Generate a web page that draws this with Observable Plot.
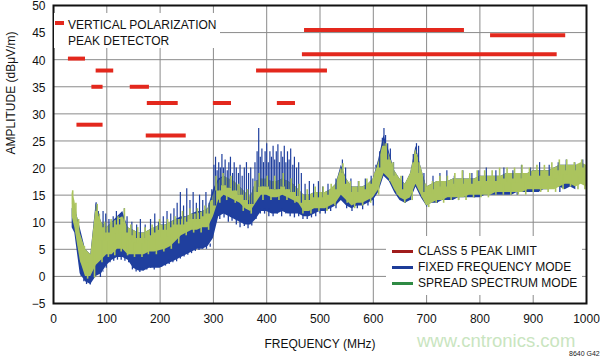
<!DOCTYPE html>
<html>
<head>
<meta charset="utf-8">
<script src="https://cdn.jsdelivr.net/npm/d3@7"></script>
<script src="https://cdn.jsdelivr.net/npm/@observablehq/plot@0.6"></script>
<style>
  html, body { margin: 0; padding: 0; background: #fff; }
  #wrap { position: relative; width: 600px; height: 359px; font-family: "Liberation Sans", Arial, sans-serif; }
  #wrap svg { position: absolute; left: 0; top: 0; }
  .box { position: absolute; background: #fff; }
  .row { position: absolute; font-size: 12px; line-height: 16px; color: #111; white-space: nowrap; }
  .sw { position: absolute; height: 3px; }
  #wm { position: absolute; left: 417px; top: 330px; font-size: 18.5px; color: #c9e5c0; }
  #code { position: absolute; left: 569px; top: 350px; font-size: 7px; color: #222; }
</style>
</head>
<body>
<div id="wrap"></div>
<script>
// ---- data ----
const freqMHz = [35,40,50,60,70,80,90,100,110,120,130,140,150,160,170,180,190,200,210,220,230,240,250,260,270,280,290,300,
  310,320,330,340,350,360,370,380,390,400,410,420,430,440,450,460,470,480,490,500,510,520,530,540,550,560,570,580,590,600,
  610,620,630,640,650,660,670,680,690,700,710,720,730,740,750,760,770,780,790,800,810,820,830,840,850,860,870,880,890,900,
  910,920,930,940,950,960,970,980,990,1000];
const spreadLo = [11,9,3,0,0,2,3,4,4,5,5,4,4,4,4,4.5,4.5,4.8,5,5.5,6.5,7.5,8,8.5,8.5,9,9,11,
  14,15,14.5,14,13.5,12.5,12,13.5,15,15,14.5,14.5,15,14.5,14,13.5,12,12,12.5,12.5,12.5,13,13.5,15,14,13,13.5,13.5,14,14.5,
  16,19,18,16,14.5,14,14.5,17,15,13,13.5,14,14,14.5,14.5,14.5,14.5,15,15,15,15,15,15.5,15.5,15.5,15.5,15.5,15.5,16,16,
  16,16,16,16,16.5,17,17,16.5,17,16.5];
const spreadHi = [15.5,14,8,5,4,13,10,9,10,10.5,11,9,8.5,8,8,8.5,9,9.5,9.5,10,10.5,10.5,11,11.5,11.5,12,12.5,15,
  17.5,18.5,18,17.5,16.5,15.5,14.5,17.5,18,18,17.5,17.5,18,17.5,17,16,15,15,15.5,15.5,15.5,16,17,20,18,16.5,16.5,16.5,17,18,
  21,25,22.5,19.5,18,17,19,23.5,20,16.5,17,17.5,17.5,17.5,18,18,18,18,18,18.5,18.5,18.5,18.5,18.5,19,19,19,19,19,19.5,
  19.5,19.5,19.5,20,20.5,20.5,20.5,20.5,21,20.5];
const fixedLo = [9,8,0.5,-1,-1.5,0,0.5,2,3,3.5,3.5,3,1.5,1,1,1.5,1.5,1.5,2,2.5,3,3.5,4,4.5,5,5,5.5,7,
  11,11.5,11,10.5,10,9.5,9.5,10.5,12,12,11.5,11.5,12,11.5,11.5,11.5,11,11,11.5,12,12,12.5,13,14,13,12.5,13,13,13.5,14,
  15.5,18.5,17.5,15.5,14,13.5,14,16.5,14.5,13,13.5,13.5,14,14,14,14.5,14.5,14.5,14.5,14.5,15,15,15,15,15,15,15.5,15.5,
  15.5,15.5,15.5,16,16,16.5,16.5,16,16.5,16];
const fixedHi = [12.5,13,9,5,4,13.5,10,9,10,11,12,9,8.5,8,8,8.5,9,9.5,9.5,10,10.5,11,11,11.5,12,12,12.5,16,
  18,18.5,17.5,17,16.5,15.5,14.5,17.5,18,17.5,17.5,17.5,18,17.5,17,16,15,15,15.5,15.5,15.5,16,17,20.5,18,16.5,16.5,16.5,17,18,
  21.5,26,23,19.5,18,17,19,24,20,16.5,17,17.5,17.5,17.5,18,18,18,18,18,18.5,18.5,18.5,18.5,18.5,19,19,19,19,19,19.5,
  19.5,19.5,19.5,20,20.5,20.5,20.5,20.5,21,20.5];
// upward spikes of the fixed-frequency trace
const fixedSpikeMHz = [80,84,93,98,104,112,118,124,133,138,147,156,163,172,182,190,197,206,213,220,226,232,238,244,250,256,262,268,274,280,286,292,297,
  301,304,307,310,313,316,319,322,326,329,332,336,339,343,347,350,354,358,362,366,370,374,378,382,385,388,391,394,397,400,403,406,409,412,415,418,421,424,427,430,433,436,439,442,445,449,452,456,460,465,
  472,480,488,497,505,515,530,542,548,558,572,585,596,605,612,617,620,623,627,632,638,655,675,681,685,695,712,725,738,752,768,785,798,812,830,845,862,878,895,912,930,947,962,978,993];
const fixedSpikeTop = [13.6,11,12,11.5,10.5,11,12,10.5,12.5,11,10,9.5,10.5,9.5,10.5,11.5,10,11,12,11.5,12.5,13.5,15.5,13,16.2,14,15.5,13.5,15,14,15.5,13.5,16,
  20.5,22,19.5,21,20,22.5,20,21.5,19.5,21,22,19,21,20,19,20.5,18.5,20,21,19,20,18,21,23,27.3,22,23.5,21,23,24.5,21,23,22,24,21.5,23,24.3,21,23,22,24,21,23,21.5,23.5,20.5,22,20,21,19,
  17,17.5,17,17.5,16.5,17,18,21.5,20,18,17.5,18,18.5,20.5,23,25.5,27.3,26,24.5,23.5,21,18.5,21,24.5,24,19,18.5,19,19.5,18.5,19.5,19,19.5,20,19.5,20,19.5,20.5,20,21,20.5,21,21.5,21,21.5];
// downward dips of the fixed-frequency trace
const fixedDipMHz = [52,57,62,66,69,73,78,84,88,93,99,106,113,120,127,134,141,148,155,162,168,175,182,189,196,203,210,217,224,231,238,245,252,259,266,273,280,287,294,
  305,312,320,328,335,343,350,358,365,372,380,388,396,404,412,420,428,436,444,452,460,468,476,484,492,500,510,520,530,550,560,570,580,590,600,645,660,670,700,720,740,760,790,830,870,910,950,990];
const fixedDipLow = [0,-1,-1.5,-0.8,-1.6,-1,0,0.5,-0.2,0.8,1.5,2.5,2.8,3,3,2.8,2.5,1.2,0.8,0.7,1,1.2,1.5,1.2,1.7,1.7,1.9,2.2,2.5,2.7,3.2,3.6,3.9,4.2,4.6,4.8,5,5,5.4,
  10,10.5,10.8,10,10.2,9.5,9,9.2,8.8,9.3,10.5,11.5,11.5,11,11,11.5,11,11.5,11,10.8,11,10.5,10.5,10.8,11,11.5,11.5,12,12.5,12.5,12,12.5,12.3,13,13,14.5,13.5,14,12.8,13.5,14,14,14.5,15,15,15.5,15.5,15.5];
// spikes (up and down) of the spread-spectrum trace
const spreadSpikeMHz = [36,42,47,52,58,64,72,77,82,86,91,96,103,108,115,121,127,133,139,145,152,158,166,172,178,185,193,199,207,214,221,228,235,242,249,256,263,270,277,284,291,297,
  305,312,318,325,333,341,348,356,364,371,378,386,393,401,408,415,423,431,438,446,453,461,468,476,483,491,498,506,513,521,528,535,543,551,557,565,573,580,588,595,
  603,610,617,624,631,637,645,652,659,666,673,679,686,692,698,704,711,718,725,732,739,746,753,760,767,774,781,788,795,802,809,816,823,830,837,844,851,858,865,872,879,886,893,900,
  907,914,921,928,935,942,949,956,963,970,977,984,991,997];
const spreadSpikeVal = [15.8,13.5,10.5,2.5,5.5,-0.5,4.5,-0.3,13.3,11.5,2.5,10,3.5,10.5,3.8,11,4.5,12.5,3.8,9.5,3.5,9,3.5,9,4,9.5,4,10.5,4.5,10.5,5,11,6,12,7.5,12.5,8,12.5,8,13,8.5,13.5,
  18.5,13.5,19,14,18.5,13.5,17,12,16,11.5,17.5,19,14,18.5,14,18.5,14,19,14,18,13.5,17,11.5,16,11.5,16.5,12,16.5,12,17,13,18,20.8,13.5,17.5,12.5,17.5,13,18,13.5,
  19,15,23,24.5,17.5,21,15,18.5,13.5,18,14,23,21,14.5,17,12.7,17.5,13.5,18.5,13.5,18.5,14,19,14,19.5,14,19,14.5,19.5,14.5,19.5,14.5,19.5,15,20,15,20,15,20,15,20.5,15,20,15.5,
  20.5,15.5,20.5,15.5,21,15.5,21.5,16,21.5,16.5,21,16,21.5,16];
// class 5 peak limit segments
const limitStart = [28,80,72,144,176,44,174,300,381,420,471,467,820];
const limitEnd   = [60,113,93,180,234,93,249,334,514,454,771,945,961];
const limitLevel = [40.2,38,35,35,32,28,26,32,38,32,45.5,41,44.5];
const xTicks = [0,100,200,300,400,500,600,700,800,900,1000];
const yTicks = [-5,0,5,10,15,20,25,30,35,40,45,50];
const legendLabels = ["CLASS 5 PEAK LIMIT","FIXED FREQUENCY MODE","SPREAD SPECTRUM MODE"];
const legendColors = ["#a01c1c","#1d3c98","#2f8a44"];

(function () {
  const bands = freqMHz.map((f,i) => ({f, slo: spreadLo[i], shi: spreadHi[i], flo: fixedLo[i], fhi: fixedHi[i]}));
  const bis = d3.bisector(d => d.f);
  const nearest = f => bands[Math.max(0, Math.min(bands.length-1, bis.center(bands, f)))];
  const fSpikes = fixedSpikeMHz.map((f,i) => {
    const b = nearest(f);
    return {f, top: fixedSpikeTop[i], base: (f >= 300 && f <= 470) ? (b.slo + b.shi) / 2 : b.shi - 1};
  });
  const fDips = fixedDipMHz.map((f,i) => ({f, low: fixedDipLow[i], base: nearest(f).flo + 0.5}));
  const sSpikes = spreadSpikeMHz.map((f,i) => {
    const b = nearest(f);
    return {f, v: spreadSpikeVal[i], base: (b.slo + b.shi) / 2};
  });
  const limits = limitStart.map((s,i) => ({x1: s, x2: limitEnd[i], y: limitLevel[i]}));

  const BLUE = "#1f3f9e", GREEN = "#abc45e", RED = "#e3281d";

  const chart = Plot.plot({
    width: 600, height: 359,
    marginLeft: 53, marginRight: 14, marginTop: 5, marginBottom: 56,
    style: {fontFamily: "'Liberation Sans', Arial, sans-serif", fontSize: "12px", color: "#111", background: "transparent"},
    x: {domain: [0, 1000]},
    y: {domain: [-5, 50]},
    marks: [
      Plot.gridX(xTicks, {stroke: "#8a8a8a", strokeOpacity: 1, strokeWidth: 1}),
      Plot.gridY(yTicks, {stroke: "#8a8a8a", strokeOpacity: 1, strokeWidth: 1}),
      Plot.areaY(bands, {x: "f", y1: "flo", y2: "fhi", fill: BLUE, curve: "linear"}),
      Plot.ruleX(fDips, {x: "f", y1: "base", y2: "low", stroke: BLUE, strokeWidth: 1.3}),
      Plot.areaY(bands, {x: "f", y1: "slo", y2: "shi", fill: GREEN, curve: "linear"}),
      Plot.ruleX(fSpikes, {x: "f", y1: "base", y2: "top", stroke: BLUE, strokeWidth: 1.2}),
      Plot.ruleX(sSpikes, {x: "f", y1: "base", y2: "v", stroke: GREEN, strokeWidth: 1.6}),
      Plot.ruleY(limits, {x1: "x1", x2: "x2", y: "y", stroke: RED, strokeWidth: 4}),
      Plot.frame({stroke: "#111", strokeWidth: 2}),
      Plot.axisX(xTicks, {tickSize: 0, tickPadding: 11, label: null, fontSize: 12, tickFormat: d => String(d)}),
      Plot.axisY(yTicks, {tickSize: 0, tickPadding: 8, label: null, fontSize: 12, dy: 1}),
      Plot.text(["FREQUENCY (MHz)"], {frameAnchor: "bottom", dy: 44, fontSize: 12}),
      Plot.text(["AMPLITUDE (dBμV/m)"], {frameAnchor: "left", dx: -42, rotate: -90, fontSize: 12})
    ]
  });

  const wrap = document.getElementById("wrap");
  wrap.appendChild(chart);

  function add(cls, styles, text) {
    const el = document.createElement("div");
    el.className = cls;
    Object.assign(el.style, styles);
    if (text) el.textContent = text;
    wrap.appendChild(el);
    return el;
  }

  // annotation box (top-left)
  add("box", {left: "54px", top: "13px", width: "166px", height: "35px"});
  add("sw", {left: "55px", top: "21px", width: "9px", height: "4px", background: RED});
  ["VERTICAL POLARIZATION", "PEAK DETECTOR"].forEach((t, i) => {
    add("row", {left: "68px", top: (17 + i * 16) + "px"}, t);
  });

  // legend box (bottom-right)
  add("box", {left: "386px", top: "236px", width: "196px", height: "59px"});
  legendLabels.forEach((t, i) => {
    const cy = 251 + i * 16;
    add("sw", {left: "392px", top: (cy - 1) + "px", width: "21px", background: legendColors[i]});
    add("row", {left: "418px", top: (cy - 8) + "px"}, t);
  });

  const wm = add("", {}, "www.cntronics.com"); wm.id = "wm";
  const code = add("", {}, "8640 G42"); code.id = "code";
})();
</script>
</body>
</html>
